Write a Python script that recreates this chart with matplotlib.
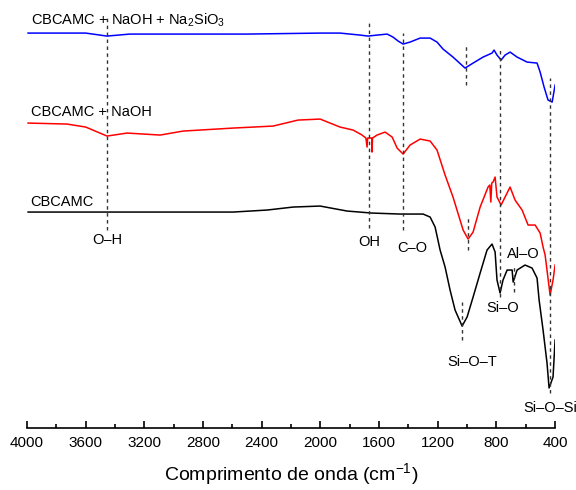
import matplotlib
matplotlib.use("Agg")
import matplotlib.pyplot as plt

plt.rcParams['font.family'] = ['Liberation Sans', 'DejaVu Sans']
plt.rcParams['mathtext.fontset'] = 'custom'
plt.rcParams['mathtext.rm'] = 'Liberation Sans'
plt.rcParams['mathtext.it'] = 'Liberation Sans:italic'

# FTIR spectra (offset transmittance, a.u.)
wn_blue = [3993, 3600, 3455, 3300, 2500, 2000, 1866, 1730, 1675, 1614, 1545,
           1505, 1470, 1436, 1389, 1320, 1252, 1205, 1164, 1096, 1014, 959,
           891, 830, 816, 796, 768, 741, 707, 659, 591, 523, 502, 475, 448,
           420, 400]
t_blue = [395, 395, 392, 394, 394, 395, 395, 393, 392, 393, 394,
          391, 387, 384, 386, 390, 390, 386, 379, 371, 360, 365,
          371, 375, 378, 373, 368, 373, 376, 371, 366, 365, 356, 341, 328,
          326, 343]

wn_red = [3993, 3727, 3600, 3455, 3318, 3093, 2936, 2595, 2323, 2152, 2002,
          1866, 1777, 1716, 1690, 1682, 1678, 1661, 1650, 1648, 1645, 1614,
          1559, 1511, 1477, 1436, 1389, 1320, 1252, 1205, 1150, 1096, 1027,
          993, 959, 911, 857, 845, 838, 832, 823, 809, 796, 768, 741, 707,
          673, 625, 584, 536, 502, 482, 468, 434, 414, 400]
t_red = [305, 304, 301, 292, 295, 293, 297, 300, 302, 308, 309,
         301, 298, 293, 290, 281, 290, 290, 290, 276, 290, 293,
         296, 291, 280, 274, 283, 289, 287, 278, 253, 231, 198,
         189, 196, 221, 241, 243, 226, 245, 246, 251, 231, 223, 231, 241,
         228, 218, 203, 203, 195, 181, 173, 133, 148, 163]

wn_black = [3993, 3455, 2595, 2364, 2186, 2002, 1818, 1650, 1457, 1300, 1252,
            1218, 1184, 1150, 1116, 1082, 1034, 1000, 959, 911, 864, 830,
            809, 796, 775, 755, 727, 693, 686, 659, 605, 557, 523, 509, 482,
            455, 441, 414, 400]
t_black = [216, 216, 216, 218, 221, 222, 217, 215, 214, 214, 211,
           201, 178, 161, 138, 118, 102, 111, 131, 155, 178, 184,
           176, 148, 135, 148, 158, 158, 146, 158, 163, 160, 150, 128, 98,
           65, 40, 51, 88]

# band markers: wavenumber, lower, upper
marks_wn = [3455, 1668, 1436, 1009, 993, 1034, 775, 680, 434]
marks_lo = [198, 200, 198, 343, 178, 88, 131, 136, 35]
marks_hi = [413, 406, 395, 383, 211, 126, 381, 161, 350]

band_labels = ['O–H', 'OH', 'C–O', 'Si–O–T', 'Si–O', 'Al–O', 'Si–O–Si']
band_x = [3455, 1668, 1375, 966, 755, 618, 434]
band_y = [188, 186, 180, 66, 120, 174, 20]

series_names = ['CBCAMC + NaOH + Na$_{\\mathregular{2}}$SiO$_{\\mathregular{3}}$',
                'CBCAMC + NaOH', 'CBCAMC']
name_y = [408, 316, 226]

fig = plt.figure(figsize=(5.76, 4.9), dpi=100)
ax = fig.add_axes([0.047, 0.1265, 0.9167, 0.857])

ax.plot(wn_blue, t_blue, color='#0000ff', lw=1.1)
ax.plot(wn_red, t_red, color='#ff0000', lw=1.1)
ax.plot(wn_black, t_black, color='black', lw=1.1)

for w, lo, hi in zip(marks_wn, marks_lo, marks_hi):
    ax.plot([w, w], [lo, hi], color='#333333', lw=1, ls=(0, (2.5, 2.5)))

for s, x, y in zip(band_labels, band_x, band_y):
    ax.text(x, y, s, ha='center', va='center', fontsize=10.5)

for s, y in zip(series_names, name_y):
    ax.text(3975, y, s, ha='left', va='center', fontsize=10.5)

ax.set_xlim(4000, 400)
ax.set_ylim(0, 420)
ax.set_xticks(range(4000, 399, -400))
ax.set_xticks(range(3800, 400, -400), minor=True)
ax.set_yticks([])
for side in ['left', 'right', 'top']:
    ax.spines[side].set_visible(False)
ax.spines['bottom'].set_linewidth(1.2)
ax.tick_params(axis='x', which='major', direction='in', length=5, width=1.2,
               labelsize=11, pad=6)
ax.tick_params(axis='x', which='minor', direction='in', length=3, width=1.2)
ax.set_xlabel('Comprimento de onda (cm$^{\\mathregular{-1}}$)', fontsize=14,
              labelpad=8)

fig.savefig('out.png', dpi=100)
